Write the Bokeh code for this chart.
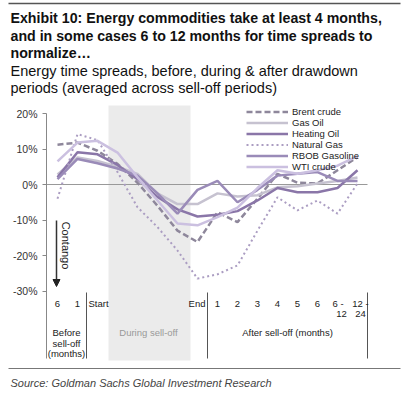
from bokeh.plotting import figure
from bokeh.models import (Range1d, BoxAnnotation, Legend, LegendItem, Arrow, LinearAxis,
                          NormalHead, FixedTicker, PrintfTickFormatter)
from bokeh.embed import file_html
from bokeh.resources import INLINE
from bokeh.core.properties import value

# ---------------- data ----------------
x_idx = list(range(16))
brent = [11.2, 11.8, 9.5, 5.8, 0.5, -6.0, -13.0, -16.2, -7.8, -10.6, -4.0, 3.0, 0.5, 0.3, 4.0, 7.7]
gas_oil = [2.8, 7.6, 6.6, 5.0, 3.0, -2.5, -5.5, -5.5, -2.5, -3.4, -3.0, -0.8, -0.5, 0.3, 1.0, 2.0]
heating_oil = [2.0, 9.1, 8.5, 5.5, 1.5, -3.5, -7.0, -9.0, -8.5, -7.5, -4.5, -1.0, -2.2, -2.2, -1.0, 4.0]
natural_gas = [-4.0, 14.2, 12.5, 3.5, -6.4, -12.0, -18.6, -26.5, -25.3, -22.8, -13.0, -3.6, -7.3, -4.5, -8.2, 0.3]
rbob = [1.5, 7.2, 6.0, 4.5, 2.5, -2.5, -8.2, -1.5, 1.0, -5.0, -1.5, 2.5, 3.0, 3.5, 1.0, 1.0]
wti = [6.5, 11.8, 12.3, 9.0, 2.0, -4.5, -11.0, -11.5, -9.2, -6.5, -1.0, 4.0, 3.0, 4.0, 5.3, 8.0]

series_names = ["Brent crude", "Gas Oil", "Heating Oil", "Natural Gas", "RBOB Gasoline", "WTI crude"]
y_ticks = [-30, -20, -10, 0, 10, 20]

tick_top = ["6", "1", "Start", "End", "1", "2", "3", "4", "5", "6", "6 -", "12 -"]
tick_bottom = ["12", "24"]
group_labels = ["Before\nsell-off\n(months)", "During sell-off", "After sell-off (months)"]

title_lines = ["Exhibit 10: Energy commodities take at least 4 months,",
               "and in some cases 6 to 12 months for time spreads to",
               "normalize\u2026"]
subtitle_lines = ["Energy time spreads, before, during & after drawdown",
                  "periods (averaged across sell-off periods)"]
source_text = "Source: Goldman Sachs Global Investment Research"

FONT = value("Liberation Sans")
W, H = 410, 392

# picture px -> data coords (idx 0 at x 57, 20 px per step; 0% at y 184, 3.55 px per %)
def xv(px):
    return (px - 57) / 20.0

def yv(py):
    return (184 - py) / 3.55

p = figure(width=W, height=H, x_range=Range1d(xv(0), xv(W)), y_range=Range1d(yv(H), yv(0)),
           x_axis_type=None, y_axis_type=None, output_backend="svg", toolbar_location=None,
           min_border=0)
p.grid.visible = False
p.outline_line_color = None

ax = LinearAxis(fixed_location=xv(46))
ax.ticker = FixedTicker(ticks=y_ticks)
ax.formatter = PrintfTickFormatter(format="%d%%")
ax.bounds = (yv(358), 20)
ax.axis_line_color = "#888888"
ax.major_tick_line_color = "#888888"
ax.major_tick_in = 0
ax.major_tick_out = 4
ax.minor_tick_line_color = None
ax.major_label_standoff = 5
ax.major_label_text_font = "Liberation Sans"
ax.major_label_text_font_size = "10.5px"
ax.major_label_text_color = "#333333"
p.add_layout(ax, "left")

# shaded sell-off period
p.add_layout(BoxAnnotation(left=xv(108), right=xv(190), top=yv(105), bottom=yv(360),
                           fill_color="#ebebeb", fill_alpha=1.0, line_color=None, level="underlay"))
# zero line
p.segment(x0=[xv(46)], y0=[0], x1=[xv(367)], y1=[0], line_color="#999999", line_width=1)

styles = [
    dict(color="#8e879b", dash="6 3", width=2.5),
    dict(color="#c6c2d0", dash="solid", width=2.5),
    dict(color="#8a76a8", dash="solid", width=2.5),
    dict(color="#ab9dc2", dash="2 3", width=2),
    dict(color="#9a8bb8", dash="solid", width=2.5),
    dict(color="#cbc0e0", dash="solid", width=2.5),
]
all_series = [brent, gas_oil, heating_oil, natural_gas, rbob, wti]
items = []
for name, ys, st in zip(series_names, all_series, styles):
    r = p.line(x_idx, ys, line_color=st["color"], line_width=st["width"], line_dash=st["dash"])
    items.append(LegendItem(label=name, renderers=[r]))

leg = Legend(items=items, location=(246, H - 105.5 - 66), glyph_width=42, glyph_height=11,
             label_height=11, spacing=0, padding=0, margin=0, label_standoff=4,
             label_text_font="Liberation Sans", label_text_font_size="9.5px",
             label_text_color="#222222", border_line_color=None,
             background_fill_alpha=0)
p.add_layout(leg)

# contango arrow
p.add_layout(Arrow(end=NormalHead(size=7, fill_color="#222222", line_color="#222222"),
                   x_start=xv(56), y_start=yv(220), x_end=xv(56), y_end=yv(286),
                   line_color="#333333", line_width=1.5))
p.text(x=[xv(65.5)], y=[yv(245)], text=["Contango"], angle=-1.5708, text_align="center",
       text_baseline="middle", text_font=FONT, text_font_size="11px", text_color="#222222")

# separators in the category area
sep_x = [xv(86), xv(207), xv(367)]
p.segment(x0=sep_x, y0=[yv(292)] * 3, x1=sep_x, y1=[yv(358)] * 3,
          line_color="#555555", line_width=1)

# category labels
FS = "9.5px"
top_x = [0, 1, xv(88), xv(205), 8, 9, 10, 11, 12, 13, xv(337.5), xv(360)]
top_align = ["center", "center", "left", "right"] + ["center"] * 8
p.text(x=top_x, y=[yv(303)] * len(top_x), text=tick_top, text_align=top_align,
       text_baseline="middle", text_font=FONT, text_font_size=FS, text_color="#222222")
p.text(x=[xv(341), xv(360)], y=[yv(313.5)] * 2, text=tick_bottom, text_align="center",
       text_baseline="middle", text_font=FONT, text_font_size=FS, text_color="#222222")

before_lines = group_labels[0].split("\n")
p.text(x=[xv(66)] * 3, y=[yv(331.7), yv(342.5), yv(353)], text=before_lines, text_align="center",
       text_baseline="middle", text_font=FONT, text_font_size=FS, text_color="#222222")
p.text(x=[xv(148)], y=[yv(331.7)], text=[group_labels[1]], text_align="center",
       text_baseline="middle", text_font=FONT, text_font_size=FS, text_color="#999999")
p.text(x=[xv(287)], y=[yv(331.7)], text=[group_labels[2]], text_align="center",
       text_baseline="middle", text_font=FONT, text_font_size=FS, text_color="#222222")

# ---------------- header / footer ----------------
p.segment(x0=[xv(8)], y0=[yv(3)], x1=[xv(400)], y1=[yv(3)], line_color="#555555", line_width=1.5)
p.text(x=[xv(10)] * 3, y=[yv(17), yv(35), yv(52.3)], text=title_lines, text_font=FONT,
       text_font_size="14.2px", text_font_style="bold", text_color="#111111",
       text_baseline="alphabetic")
p.text(x=[xv(10)] * 2, y=[yv(70), yv(87.3)], text=subtitle_lines, text_font=FONT,
       text_font_size="14.5px", text_color="#111111", text_baseline="alphabetic")
p.segment(x0=[xv(8)], y0=[yv(368)], x1=[xv(400)], y1=[yv(368)], line_color="#777777", line_width=1)
p.text(x=[xv(10)], y=[yv(382)], text=[source_text], text_font=FONT, text_font_size="11px",
       text_font_style="italic", text_color="#444444", text_baseline="alphabetic")

open("out.html", "w").write(file_html(p, INLINE))
